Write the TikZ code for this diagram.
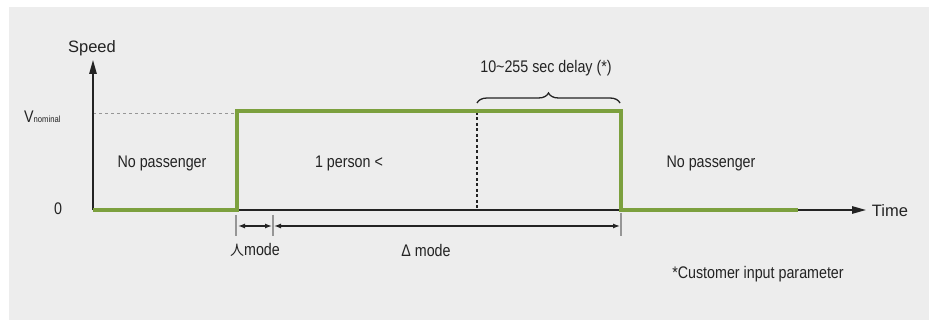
\documentclass[tikz,border=0pt]{standalone}
\usepackage{fontspec}
\setmainfont{Liberation Sans}
\newfontfamily\cond[FakeStretch=0.85]{Liberation Sans}
\newfontfamily\cjk{Noto Sans CJK KR}
\usetikzlibrary{decorations.pathreplacing,arrows.meta}
\definecolor{bggray}{RGB}{237,237,237}
\definecolor{lgreen}{RGB}{124,160,62}
\definecolor{txt}{RGB}{35,35,35}
\definecolor{tick}{RGB}{150,150,150}
\begin{document}
\begin{tikzpicture}[x=1pt,y=-1pt,
  lbl/.style={font=\cond\fontsize{16.8}{19}\selectfont, text=txt, inner sep=0pt},
  big/.style={font=\fontsize{16.5}{19}\selectfont, text=txt, inner sep=0pt},
  axisline/.style={draw=txt, line width=1.4pt},
  bigtip/.style={-{Triangle[length=14pt,width=7.5pt]}},
  smalltips/.style={{Latex[length=7pt,width=5pt]}-{Latex[length=7pt,width=5pt]}},
  tickline/.style={draw=tick, line width=1.2pt},
  greenline/.style={draw=lgreen, line width=4pt, line join=miter},
]
\useasboundingbox (0,0) rectangle (929,320);
\fill[white] (0,0) rectangle (929,320);
\fill[bggray] (9,7) rectangle (929,320);

% key points
\coordinate (O) at (93,210);
\coordinate (Ytop) at (93,60);
\coordinate (Xstart) at (237,210);
\coordinate (Xend) at (866,210);
\coordinate (up1) at (237,210);
\coordinate (up1t) at (237,111);
\coordinate (dn1t) at (621,111);
\coordinate (dn1) at (621,210);
\coordinate (gend) at (798,210);
\coordinate (nomL) at (93,113);
\coordinate (nomR) at (237,113);
\coordinate (dotT) at (477,112);
\coordinate (dotB) at (477,210);
\coordinate (brL) at (477,103);
\coordinate (brR) at (620,103);
\coordinate (t1a) at (236,215);
\coordinate (t1b) at (236,236);
\coordinate (t2a) at (273,215);
\coordinate (t2b) at (273,236);
\coordinate (t3a) at (621,213);
\coordinate (t3b) at (621,236);
\coordinate (a1) at (238,226);
\coordinate (a2) at (272,226);
\coordinate (a3) at (274,226);
\coordinate (a4) at (620,226);

% dashed nominal line
\draw[tick, line width=0.9pt, dash pattern=on 3pt off 3pt] (nomL) -- (nomR);
% dotted marker
\draw[txt, line width=1.3pt, dash pattern=on 3pt off 2.5pt] (dotT) -- (dotB);

% axes
\draw[axisline, bigtip] (O) -- (Ytop);
\draw[axisline, bigtip] (Xstart) -- (Xend);

% green speed profile
\draw[greenline] (O) -- (up1) -- (up1t) -- (dn1t) -- (dn1) -- (gend);

% brace
\draw[txt, line width=1.3pt, decorate, decoration={brace, amplitude=10pt}] (brL) -- (brR);

% ticks and mode arrows
\draw[tickline] (t1a) -- (t1b);
\draw[tickline] (t2a) -- (t2b);
\draw[tickline] (t3a) -- (t3b);
\draw[txt, line width=1.3pt, smalltips] (a1) -- (a2);
\draw[txt, line width=1.3pt, smalltips] (a3) -- (a4);

% labels
\node[big] (speed) at (92,48) {Speed};
\node[big] (time) at (890,211) {Time};
\node[lbl, anchor=base west] (vnom) at (24,123) {V{\fontsize{9}{10}\selectfont nominal}};
\node[lbl] (zero) at (58,209) {0};
\node[lbl] (np1) at (162,163) {No passenger};
\node[lbl] (pers) at (349,163) {1 person <};
\node[lbl] (np2) at (711,163) {No passenger};
\node[lbl] (delay) at (546,68) {10\char"007E 255 sec delay (*)};
\node[lbl] (ymode) at (255,250) {{\cjk\fontsize{14}{16}\selectfont 人}mode};
\node[lbl] (dmode) at (426,250) {Δ mode};
\node[lbl] (cust) at (758,274) {*Customer input parameter};
\end{tikzpicture}
\end{document}
